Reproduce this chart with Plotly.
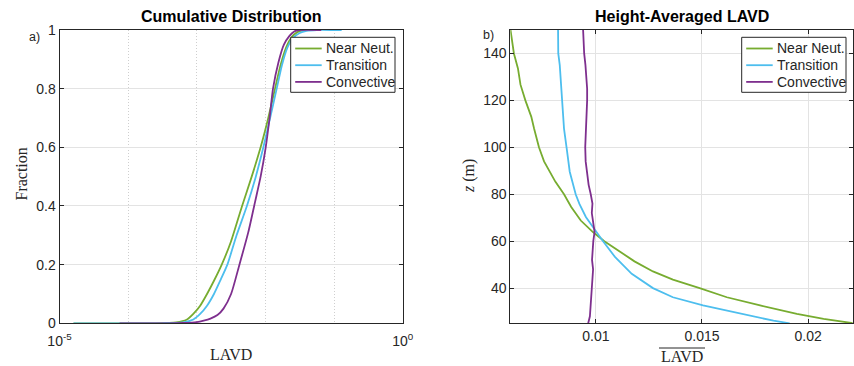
import plotly.graph_objects as go

# ---- Cumulative distribution of LAVD (panel a) ----
nn_lavd = [1.6e-5, 2.5e-4, 5.0e-4, 7.1e-4, 8.9e-4, 1.12e-3, 1.41e-3, 1.78e-3, 2.31e-3,
           3.16e-3, 4.57e-3, 6.31e-3, 8.51e-3, 1.1e-2, 1.38e-2, 1.66e-2, 2.0e-2, 2.4e-2,
           2.88e-2, 3.55e-2, 4.17e-2, 6.3e-2]
nn_frac = [0.0, 0.0, 0.003, 0.012, 0.032, 0.06, 0.10, 0.145, 0.2,
           0.28, 0.40, 0.50, 0.60, 0.70, 0.80, 0.88, 0.94, 0.975,
           0.992, 0.999, 1.0, 1.0]

tr_lavd = [1.6e-5, 3.16e-4, 6.31e-4, 8.91e-4, 1.12e-3, 1.41e-3, 1.78e-3, 2.24e-3, 2.79e-3,
           3.8e-3, 5.37e-3, 7.24e-3, 9.33e-3, 1.17e-2, 1.46e-2, 1.74e-2, 2.09e-2, 2.51e-2,
           3.16e-2, 3.98e-2, 5.62e-2, 1.0e-1, 1.29e-1]
tr_frac = [0.0, 0.0, 0.003, 0.013, 0.032, 0.06, 0.10, 0.15, 0.2,
           0.3, 0.4, 0.5, 0.6, 0.7, 0.8, 0.88, 0.94, 0.972,
           0.99, 0.997, 1.0, 1.0, 1.0]

cv_lavd = [7.5e-5, 3.98e-4, 6.31e-4, 1.0e-3, 1.26e-3, 1.58e-3, 2.0e-3, 2.45e-3, 3.16e-3,
           4.18e-3, 5.62e-3, 7.08e-3, 8.51e-3, 1.01e-2, 1.15e-2, 1.29e-2, 1.55e-2, 1.86e-2,
           2.24e-2, 2.63e-2, 3.09e-2, 6.5e-2]
cv_frac = [0.0, 0.0, 0.001, 0.004, 0.009, 0.016, 0.028, 0.05, 0.1,
           0.2, 0.31, 0.415, 0.5, 0.6, 0.7, 0.8, 0.89, 0.95,
           0.98, 0.995, 1.0, 1.0]

# ---- Height-averaged LAVD profiles (panel b) ----
nn_z = [150, 140, 133.6, 126.7, 120, 113, 108, 100, 94, 89.7, 85.4, 80, 74.6, 68.8,
        64, 60, 55.7, 51.4, 47.1, 43.6, 40, 36.1, 32.6, 29, 26.9, 25]
nn_avg = [0.00598, 0.00614, 0.00633, 0.00645, 0.00668, 0.00696, 0.00709, 0.00732, 0.00756,
          0.00783, 0.00809, 0.0085, 0.00884, 0.00929, 0.00985, 0.0104, 0.01108,
          0.01182, 0.01269, 0.01363, 0.01489, 0.01617, 0.01774, 0.01947, 0.02073, 0.02215]

tr_z = [150, 140, 135, 120, 108, 100, 89.6, 80, 76, 70.3, 64, 60, 53.3, 46.1, 40, 36.1,
        32.6, 29, 26.1, 25]
tr_avg = [0.00822, 0.00823, 0.0083, 0.00841, 0.0085, 0.00862, 0.00877, 0.00905, 0.00922,
          0.00953, 0.0100, 0.01034, 0.0109, 0.01169, 0.01269, 0.01363, 0.01505, 0.0168,
          0.01837, 0.01913]

cv_z = [150, 146, 140, 135, 129.3, 125, 120, 115, 110.3, 105, 100, 94, 88.3, 84, 80, 76,
        72, 68, 64, 60, 56, 52, 48, 44, 40, 36, 32, 28, 25]
cv_avg = [0.0094, 0.00942, 0.00945, 0.00951, 0.00956, 0.00959, 0.00959, 0.00956, 0.00954,
          0.00951, 0.0095, 0.00952, 0.0096, 0.00966, 0.00976, 0.00984, 0.00981, 0.00989,
          0.00994, 0.00988, 0.00986, 0.00982, 0.00987, 0.00983, 0.00981, 0.00978, 0.00975,
          0.00972, 0.00964]

series_names = ["Near Neut.", "Transition", "Convective"]
series_colors = ["#77AC30", "#4DBEEE", "#7E2F8E"]

lavd_ticks = [1e-5, 1e0]
lavd_ticktext = ["10<sup>-5</sup>", "10<sup>0</sup>"]
lavd_minor = [1e-4, 1e-3, 1e-2, 1e-1]
frac_ticks = [0, 0.2, 0.4, 0.6, 0.8, 1]
avg_ticks = [0.01, 0.015, 0.02]
z_ticks = [40, 60, 80, 100, 120, 140]

AX = "#262626"
GRID = "#e3e3e3"
SANS = "Liberation Sans, Arial, sans-serif"
SERIF = "Liberation Serif, DejaVu Serif, serif"
W, H = 854, 366

fig = go.Figure()

cdf = [(nn_lavd, nn_frac), (tr_lavd, tr_frac), (cv_lavd, cv_frac)]
prof = [(nn_avg, nn_z), (tr_avg, tr_z), (cv_avg, cv_z)]

for (x, y), name, col in zip(cdf, series_names, series_colors):
    fig.add_trace(go.Scatter(x=x, y=y, mode="lines", name=name,
                             line=dict(color=col, width=1.8, shape="spline", smoothing=0.6),
                             xaxis="x", yaxis="y"))
for (x, y), name, col in zip(prof, series_names, series_colors):
    fig.add_trace(go.Scatter(x=x, y=y, mode="lines", name=name,
                             line=dict(color=col, width=1.8),
                             xaxis="x2", yaxis="y2"))

axis_common = dict(showline=True, linecolor=AX, linewidth=1, mirror="ticks",
                   ticks="inside", ticklen=4, tickcolor=AX, zeroline=False,
                   automargin=False,
                   tickfont=dict(family=SANS, size=14, color=AX))

lx0, lx1 = 59.5 / W, 402.7 / W
rx0, rx1 = 510.3 / W, 852.7 / W
yb, yt = 1 - 323.3 / H, 1 - 30 / H

fig.update_layout(
    width=W, height=H,
    margin=dict(l=0, r=0, t=0, b=0, pad=0, autoexpand=False),
    paper_bgcolor="white", plot_bgcolor="white",
    showlegend=False,
    xaxis=dict(domain=[lx0, lx1], type="log", range=[-5, 0],
               tickvals=lavd_ticks, ticktext=lavd_ticktext, showgrid=False,
               ticklabelstandoff=5,
               minor=dict(tickvals=lavd_minor, showgrid=True, griddash="1px,2px",
                          gridcolor="#cfcfcf", gridwidth=1, ticklen=0),
               anchor="y", **axis_common),
    yaxis=dict(domain=[yb, yt], range=[0, 1], tickvals=frac_ticks,
               showgrid=True, gridcolor=GRID, gridwidth=1, anchor="x", **axis_common),
    xaxis2=dict(domain=[rx0, rx1], range=[0.00597, 0.0221], tickvals=avg_ticks,
                showgrid=True, gridcolor=GRID, gridwidth=1, anchor="y2", **axis_common),
    yaxis2=dict(domain=[yb, yt], range=[25, 150], tickvals=z_ticks,
                showgrid=True, gridcolor=GRID, gridwidth=1, anchor="x2", **axis_common),
)


def label(text, x, y, size=13, family=SANS, angle=0, bold=False, xanchor="center"):
    fig.add_annotation(text=f"<b>{text}</b>" if bold else text,
                       x=x / W, y=1 - y / H, xref="paper", yref="paper",
                       xanchor=xanchor, yanchor="middle",
                       showarrow=False, textangle=angle,
                       font=dict(family=family, size=size, color="black" if bold else AX))


def px_line(x0, y0, x1, y1, color, width):
    fig.add_shape(type="line", xref="paper", yref="paper",
                  x0=x0 / W, x1=x1 / W, y0=1 - y0 / H, y1=1 - y1 / H,
                  line=dict(color=color, width=width))


def legend_box(left, top, right, bottom):
    fig.add_shape(type="rect", xref="paper", yref="paper",
                  x0=left / W, x1=right / W, y0=1 - bottom / H, y1=1 - top / H,
                  fillcolor="white", line=dict(color=AX, width=1))
    rows = [top + 11.2, top + 27.9, top + 44.6]
    for name, col, yy in zip(series_names, series_colors, rows):
        px_line(left + 4.5, yy, left + 31, yy, col, 1.8)
        label(name, left + 33.5, yy, size=14, xanchor="left")


# panel titles, tags and axis labels
label("Cumulative Distribution", 231.3, 16.5, size=16, bold=True)
label("Height-Averaged LAVD", 682, 16.5, size=16, bold=True)
label("a)", 34, 37, size=12.5)
label("b)", 488, 35, size=12.5)
label("Fraction", 20.5, 174, size=16, family=SERIF, angle=-90)
label("LAVD", 231, 354.5, size=16, family=SERIF)
label("<i>z</i> (m)", 469.5, 176.5, size=16, family=SERIF, angle=-90)
label("LAVD", 682, 356, size=16, family=SERIF)
# overbar for the averaged quantity
px_line(659, 348, 705, 348, AX, 1)

legend_box(290.7, 37.3, 395, 92.3)
legend_box(741.7, 37.3, 846, 92.3)

fig.write_html("out.html")
